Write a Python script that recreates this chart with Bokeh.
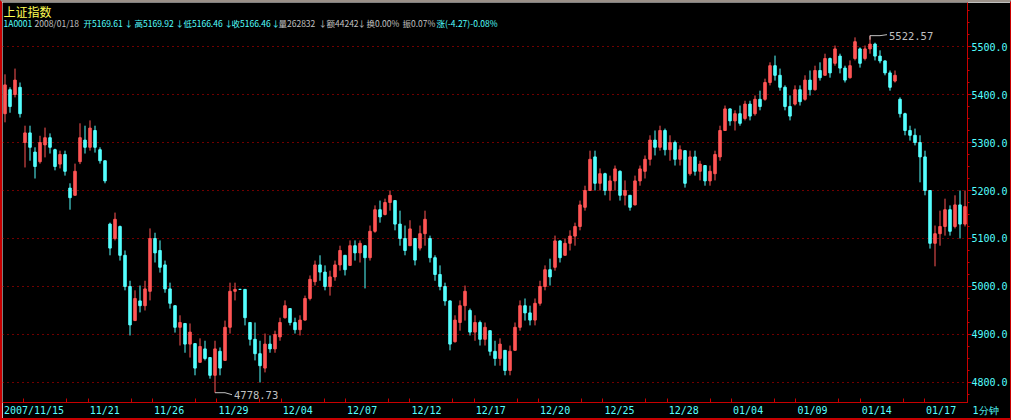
import numpy as np
from bokeh.plotting import figure
from bokeh.models import (Range1d, FixedTicker, PrintfTickFormatter, Label,
                          ColumnDataSource)
from bokeh.embed import file_html
from bokeh.resources import INLINE
from bokeh.core.properties import value

# ---------------- data ----------------
opens = [5360, 5410, 5400, 5415, 5300, 5320, 5280, 5260, 5295, 5310,
         5285, 5255, 5275, 5205, 5190, 5260, 5305, 5290, 5325, 5285,
         5262, 5130, 5100, 5125, 5065, 5000, 4929, 4970, 4960, 4990,
         5100, 5075, 5045, 4995, 4960, 4915, 4923, 4880, 4881, 4842,
         4870, 4852, 4815, 4865, 4846, 4915, 4990, 4994, 4994, 4925,
         4890, 4860, 4830, 4880, 4870, 4895, 4935, 4954, 4925, 4910,
         4930, 4975, 5010, 5045, 5030, 5000, 5020, 5045, 5065, 5044,
         5085, 5070, 5085, 5060, 5115, 5160, 5150, 5175, 5179, 5130,
         5100, 5085, 5100, 5080, 5110, 5100, 5060, 5025, 5000, 4970,
         4885, 4925, 4960, 4950, 4905, 4925, 4890, 4908, 4865, 4850,
         4867, 4825, 4867, 4915, 4960, 4945, 4930, 4965, 5000, 5035,
         5040, 5095, 5065, 5090, 5105, 5125, 5165, 5200, 5270, 5215,
         5235, 5200, 5220, 5240, 5190, 5190, 5170, 5220, 5240, 5265,
         5305, 5290, 5325, 5285, 5300, 5265, 5283, 5235, 5270, 5240,
         5252, 5220, 5235, 5270, 5325, 5370, 5345, 5360, 5350, 5380,
         5360, 5390, 5390, 5425, 5460, 5440, 5415, 5375, 5380, 5410,
         5390, 5430, 5410, 5450, 5440, 5475, 5465, 5480, 5455, 5435,
         5475, 5495, 5475, 5495, 5505, 5480, 5470, 5445, 5428, 5390,
         5360, 5325, 5315, 5300, 5270, 5200, 5090, 5110, 5125, 5160,
         5125, 5170, 5130]
highs = [5442, 5415, 5454, 5425, 5335, 5335, 5290, 5314, 5331, 5319,
         5287, 5283, 5283, 5215, 5256, 5340, 5335, 5346, 5335, 5290,
         5262, 5133, 5154, 5127, 5075, 5012, 4992, 5002, 5012, 5121,
         5112, 5096, 5054, 5008, 4960, 4940, 4923, 4923, 4881, 4892,
         4887, 4852, 4887, 4873, 4929, 5008, 5008, 4994, 4994, 4925,
         4925, 4887, 4902, 4898, 4908, 4935, 4971, 4954, 4935, 4940,
         4981, 5023, 5054, 5065, 5044, 5033, 5054, 5085, 5065, 5096,
         5096, 5096, 5085, 5127, 5169, 5179, 5183, 5200, 5179, 5158,
         5127, 5138, 5100, 5127, 5158, 5106, 5065, 5044, 5008, 4971,
         4940, 4971, 5002, 4954, 4940, 4929, 4925, 4908, 4887, 4892,
         4867, 4877, 4925, 4971, 4975, 4960, 4975, 5012, 5044, 5058,
         5106, 5096, 5100, 5117, 5133, 5179, 5210, 5283, 5283, 5246,
         5237, 5231, 5252, 5242, 5221, 5190, 5231, 5252, 5273, 5315,
         5325, 5335, 5329, 5315, 5304, 5294, 5283, 5283, 5283, 5262,
         5252, 5252, 5283, 5335, 5377, 5371, 5367, 5377, 5387, 5387,
         5398, 5408, 5433, 5467, 5481, 5454, 5419, 5398, 5419, 5419,
         5440, 5450, 5460, 5467, 5485, 5477, 5502, 5485, 5460, 5471,
         5519, 5498, 5502, 5522.57, 5508, 5492, 5471, 5450, 5450, 5394,
         5362, 5335, 5329, 5315, 5283, 5200, 5127, 5158, 5183, 5169,
         5190, 5200, 5200]
lows = [5342, 5362, 5394, 5352, 5248, 5262, 5225, 5256, 5269, 5277,
        5242, 5246, 5231, 5160, 5190, 5255, 5277, 5283, 5279, 5256,
        5215, 5065, 5096, 5054, 4992, 4898, 4929, 4946, 4950, 4971,
        5050, 5029, 4987, 4954, 4904, 4877, 4862, 4852, 4815, 4842,
        4846, 4808, 4778.73, 4815, 4846, 4902, 4971, 4994, 4919, 4877,
        4846, 4800, 4821, 4862, 4862, 4887, 4933, 4919, 4902, 4898,
        4929, 4971, 5002, 5012, 4992, 4981, 5012, 5033, 5023, 5044,
        5054, 5050, 4996, 5054, 5112, 5133, 5148, 5158, 5117, 5085,
        5065, 5085, 5044, 5075, 5085, 5050, 5012, 4992, 4960, 4867,
        4883, 4908, 4929, 4898, 4887, 4877, 4877, 4856, 4835, 4835,
        4815, 4815, 4867, 4908, 4929, 4919, 4919, 4960, 4992, 5002,
        5033, 5050, 5065, 5075, 5085, 5117, 5158, 5200, 5200, 5200,
        5190, 5179, 5200, 5179, 5169, 5158, 5169, 5210, 5225, 5252,
        5273, 5283, 5273, 5262, 5252, 5252, 5206, 5231, 5231, 5221,
        5210, 5210, 5221, 5262, 5325, 5335, 5325, 5335, 5346, 5346,
        5356, 5367, 5387, 5419, 5429, 5408, 5367, 5346, 5377, 5377,
        5387, 5398, 5408, 5429, 5440, 5435, 5460, 5444, 5425, 5433,
        5471, 5456, 5471, 5485, 5471, 5465, 5440, 5408, 5425, 5352,
        5315, 5304, 5294, 5217, 5190, 5079, 5042, 5085, 5106, 5106,
        5121, 5100, 5125]
closes = [5420, 5375, 5430, 5360, 5320, 5290, 5250, 5300, 5310, 5290,
          5250, 5275, 5240, 5185, 5240, 5310, 5290, 5330, 5290, 5262,
          5220, 5080, 5140, 5065, 5000, 4920, 4975, 4960, 4995, 5100,
          5070, 5040, 4995, 4965, 4915, 4925, 4880, 4905, 4830, 4875,
          4850, 4815, 4870, 4830, 4915, 4990, 4994, 4994, 4935, 4890,
          4860, 4835, 4880, 4870, 4900, 4925, 4960, 4925, 4910, 4930,
          4975, 5015, 5045, 5030, 5000, 5020, 5045, 5075, 5035, 5085,
          5070, 5090, 5060, 5115, 5160, 5145, 5175, 5190, 5130, 5100,
          5075, 5120, 5055, 5110, 5140, 5060, 5025, 5000, 4970, 4880,
          4930, 4960, 4990, 4905, 4925, 4890, 4915, 4865, 4850, 4880,
          4825, 4865, 4915, 4960, 4945, 4930, 4965, 5000, 5035, 5020,
          5095, 5060, 5090, 5105, 5125, 5170, 5200, 5265, 5215, 5235,
          5200, 5220, 5245, 5190, 5200, 5165, 5220, 5245, 5265, 5305,
          5290, 5325, 5285, 5300, 5265, 5285, 5215, 5270, 5240, 5255,
          5220, 5240, 5275, 5325, 5370, 5345, 5360, 5340, 5380, 5355,
          5390, 5375, 5425, 5460, 5440, 5415, 5375, 5355, 5410, 5385,
          5430, 5410, 5450, 5435, 5475, 5445, 5495, 5455, 5430, 5460,
          5510, 5465, 5495, 5505, 5480, 5470, 5445, 5415, 5440, 5360,
          5325, 5315, 5300, 5270, 5200, 5090, 5110, 5125, 5160, 5115,
          5170, 5130, 5166.46]

trade_days = ["2007/11/15", "11/16", "11/19", "11/20", "11/21", "11/22", "11/23",
              "11/26", "11/27", "11/28", "11/29", "11/30", "12/03", "12/04",
              "12/05", "12/06", "12/07", "12/10", "12/11", "12/12", "12/13",
              "12/14", "12/17", "12/18", "12/19", "12/20", "12/21", "12/24",
              "12/25", "12/26", "12/27", "12/28", "01/02", "01/03", "01/04",
              "01/07", "01/08", "01/09", "01/10", "01/11", "01/14", "01/15",
              "01/16", "01/17", "01/18"]
label_day_idx = [0, 4, 7, 10, 13, 16, 19, 22, 25, 28, 31, 34, 37, 40, 43]
tick_day_idx = [1, 3, 4, 6, 7, 9, 10, 12, 13, 15, 16, 18, 19, 21, 22, 24, 25,
                27, 28, 30, 31, 33, 34, 36, 37, 39, 40, 42, 43, 45]
price_ticks = [4800, 4900, 5000, 5100, 5200, 5300, 5400, 5500]
price_minor_ticks = [4775, 4825, 4850, 4875, 4925, 4950, 4975, 5025, 5050, 5075,
                     5125, 5150, 5175, 5225, 5250, 5275, 5325, 5350, 5375,
                     5425, 5450, 5475, 5525, 5550, 5575]

title_text = "上证指数"
info_texts = ["1A0001", "2008/01/18", "开5169.61", "↓", "高5169.92", "↓",
              "低5166.46", "↓", "收5166.46", "↓", "量262832", "↓", "额44242",
              "↓", "换0.00%", "振0.07%", "涨(-4.27)-0.08%"]
period_text = "1分钟"

# ---------------- layout / style ----------------
RED = "#c80000"
UPC = "#ff5454"
DNC = "#54ffff"
CYAN = "#54ffff"
GREY = "#c0c0c0"
YELLOW = "#ffff54"
FW, FH = 965, 400
Y0, Y1 = 4758.33, 5591.67
info_x = [3, 34, 83, 124, 134, 175, 183, 224, 231, 271, 278, 318, 326, 357, 366, 402, 436]
info_colors = [CYAN, GREY, CYAN, CYAN, CYAN, CYAN, CYAN, CYAN, CYAN, CYAN,
               GREY, GREY, GREY, GREY, GREY, GREY, CYAN]

N = len(closes)
ND = len(trade_days)
xs = [(i + 0.5) * ND / N for i in range(N)]
dpx = ND / FW
ppx = (Y1 - Y0) / FH

p = figure(frame_width=FW, frame_height=FH, x_range=Range1d(0, ND),
           y_range=Range1d(Y0, Y1), y_axis_location="right",
           output_backend="svg", toolbar_location=None,
           background_fill_color="black", border_fill_color="black",
           min_border_left=0, min_border_right=0, min_border_top=0,
           min_border_bottom=0)
p.outline_line_color = None
p.styles = {"border-left": "2px solid " + RED, "border-right": "2px solid " + RED,
            "border-bottom": "2px solid " + RED, "border-top": "2px solid #9a9088"}

# grid
yt = FixedTicker(ticks=price_ticks, minor_ticks=price_minor_ticks)
p.xgrid.visible = False
p.ygrid.ticker = yt
p.ygrid.grid_line_color = "#e00000"
p.ygrid.grid_line_dash = "1 4"

# right price axis
ya = p.yaxis[0]
ya.ticker = yt
ya.formatter = PrintfTickFormatter(format="%.1f")
ya.axis_line_color = RED
ya.major_tick_line_color = RED
ya.major_tick_in = 0
ya.major_tick_out = 4
ya.minor_tick_line_color = RED
ya.minor_tick_in = 0
ya.minor_tick_out = 2
ya.major_label_standoff = 0
ya.major_label_text_color = CYAN
ya.major_label_text_font = "DejaVu Sans Mono"
ya.major_label_text_font_size = "10px"

# bottom date axis (labels start at their day; the period name sits past the end)
centers = [round(k + (len(trade_days[k]) * 3.0 + 1.5) * dpx, 4) for k in label_day_idx]
end_tick = round(ND - 1e-6, 6)
overrides = {c: trade_days[k] for c, k in zip(centers, label_day_idx)}
overrides[end_tick] = "\u00a0" * 6 + period_text
xa = p.xaxis[0]
xa.ticker = FixedTicker(ticks=centers + [end_tick], minor_ticks=tick_day_idx)
xa.major_label_overrides = overrides
xa.axis_line_color = RED
xa.major_tick_in = 0
xa.major_tick_out = 0
xa.minor_tick_line_color = RED
xa.minor_tick_in = 4
xa.minor_tick_out = 0
xa.major_label_standoff = 2
xa.major_label_text_color = CYAN
xa.major_label_text_font = "DejaVu Sans Mono"
xa.major_label_text_font_size = "10px"

# candles
src = ColumnDataSource(dict(
    x=xs, h=highs, l=lows,
    top=[max(o, c) for o, c in zip(opens, closes)],
    bottom=[min(o, c) for o, c in zip(opens, closes)],
    color=[UPC if c > o else DNC for o, c in zip(opens, closes)]))
p.segment(x0="x", y0="l", x1="x", y1="h", line_color="color", line_width=1, source=src)
p.vbar(x="x", width=0.5 * ND / N, top="top", bottom="bottom",
       fill_color="color", line_color="color", line_width=1, source=src)

# extreme annotations
ih = int(np.argmax(highs))
il = int(np.argmin(lows))
hx, hy = xs[ih], highs[ih]
lx, ly = xs[il], lows[il]
p.line([hx, hx, hx + 10 * dpx, hx + 17 * dpx], [hy - 4 * ppx, hy, hy, hy + 1 * ppx],
       line_color=GREY, line_width=1)
p.text([hx + 19 * dpx], [hy], text=[f"{hy:.2f}"], text_color=GREY,
       text_font=value("DejaVu Sans Mono"), text_font_size="10.5px",
       text_baseline="middle", text_align="left")
p.line([lx, lx + 10 * dpx, lx + 17 * dpx], [ly, ly, ly - 2 * ppx],
       line_color=GREY, line_width=1)
p.text([lx + 19 * dpx], [ly - 2.5 * ppx], text=[f"{ly:.2f}"], text_color=GREY,
       text_font=value("DejaVu Sans Mono"), text_font_size="10.5px",
       text_baseline="middle", text_align="left")

# header
p.add_layout(Label(x=1, y=FH, x_units="screen", y_units="screen", text=title_text,
                   text_color=YELLOW, text_font="Noto Sans CJK SC",
                   text_font_size="12px", text_baseline="top"))
for t, rx, col in zip(info_texts, info_x, info_colors):
    p.add_layout(Label(x=rx - 2, y=FH - 20.5, x_units="screen", y_units="screen",
                       text=t, text_color=col, text_font="Noto Sans CJK SC",
                       text_font_size="8.5px", text_baseline="middle"))

open("out.html", "w").write(file_html(p, INLINE))
